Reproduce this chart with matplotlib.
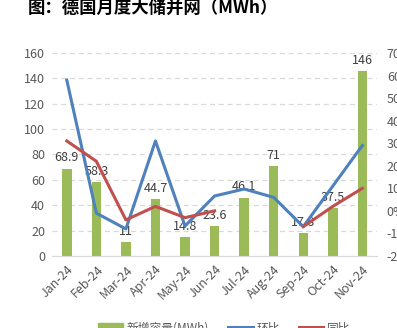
import numpy as np
import matplotlib as mpl
mpl.use('Agg')
import matplotlib.pyplot as plt
from matplotlib.lines import Line2D
from matplotlib.patches import Patch

plt.rcParams['font.family'] = ['Noto Sans CJK SC', 'DejaVu Sans']

months = ['Jan-24', 'Feb-24', 'Mar-24', 'Apr-24', 'May-24', 'Jun-24',
          'Jul-24', 'Aug-24', 'Sep-24', 'Oct-24', 'Nov-24']
new_cap = [68.9, 58.3, 11, 44.7, 14.8, 23.6, 46.1, 71, 17.8, 37.5, 146]
mom = [58, -1, -8, 31, -6.7, 6.6, 9.7, 6, -7, 11, 29]        # 环比 (%)
yoy = [31, 22, -4, 2, -3, 0, np.nan, np.nan, -7, 2, 10]       # 同比 (%)
labels = ['68.9', '58.3', '11', '44.7', '14.8', '23.6', '46.1', '71', '17.8', '37.5', '146']

green = '#9BBB59'
blue = '#4F81BD'
red = '#C0504D'
gray = '#595959'

fig = plt.figure(figsize=(3.97, 3.28), dpi=100)
ax = fig.add_axes([0.131, 0.2195, 0.819, 0.619])
ax2 = ax.twinx()

x = np.arange(len(months))
ax.bar(x, new_cap, width=0.32, color=green, zorder=2)
for xi, v, t in zip(x, new_cap, labels):
    ax.annotate(t, (xi, v), xytext=(0, 3), textcoords='offset points',
                ha='center', va='bottom', fontsize=9, color='#404040')

ax.set_ylim(0, 160)
ax.set_yticks(range(0, 161, 20))
ax.set_xlim(-0.5, len(months) - 0.5)
ax.set_xticks(x)
ax.set_xticklabels(months, rotation=45, ha='right', rotation_mode='anchor')
ax.tick_params(axis='both', length=0, labelsize=9, labelcolor=gray, pad=5)
ax.grid(axis='y', linestyle=(0, (4, 3)), color='#D9D9D9', linewidth=0.9, zorder=0)
ax.set_axisbelow(True)
for s in ['top', 'left', 'right']:
    ax.spines[s].set_visible(False)
ax.spines['bottom'].set_color('#D9D9D9')

ax2.plot(x, mom, color=blue, lw=2.2)
ax2.plot(x, yoy, color=red, lw=2.2)
ax2.set_ylim(-20, 70)
ax2.set_yticks(range(-20, 71, 10))
ax2.set_yticklabels([f'{v}%' for v in range(-20, 71, 10)])
ax2.tick_params(axis='y', length=0, labelsize=9, labelcolor=gray, pad=7)
for s in ax2.spines.values():
    s.set_visible(False)

fig.text(0.07, 0.976, '图：德国月度大储并网（MWh）', fontsize=12.5, fontweight='bold',
         va='center', ha='left', color='#000000')

handles = [Patch(color=green, label='新增容量(MWh)'),
           Line2D([], [], color=blue, lw=2.2, label='环比'),
           Line2D([], [], color=red, lw=2.2, label='同比')]
fig.legend(handles=handles, loc='center', bbox_to_anchor=(0.565, 0.0), ncol=3,
           frameon=False, fontsize=8.5, labelcolor=gray, handlelength=2.1,
           handletextpad=0.3, columnspacing=1.6)

fig.savefig('out.png', dpi=100)
